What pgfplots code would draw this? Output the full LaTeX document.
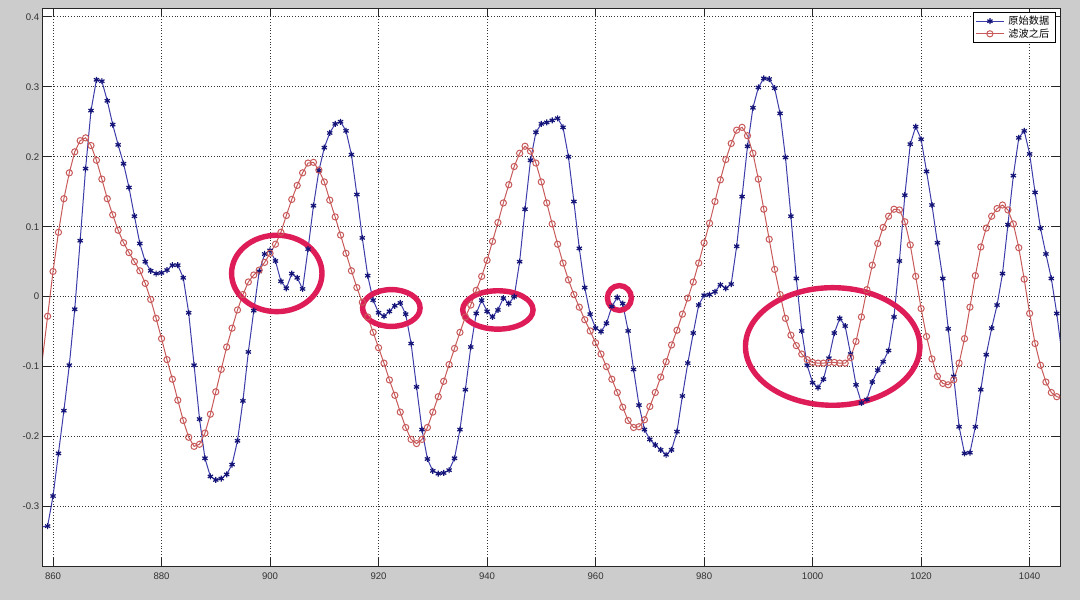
\documentclass[border=0pt]{standalone}
\usepackage{pgfplots}
\pgfplotsset{compat=1.18}
\usepackage{fontspec}
\setmainfont{Liberation Sans}
\newfontfamily\cjk{Noto Sans CJK SC}
\definecolor{figgray}{RGB}{204,204,204}
\definecolor{bline}{RGB}{60,60,170}
\definecolor{bmark}{RGB}{20,20,120}
\definecolor{rline}{RGB}{200,90,90}
\definecolor{ring}{RGB}{222,28,88}
\begin{document}
\begin{tikzpicture}
\useasboundingbox (0,0) rectangle (540pt,300pt);
\clip (0,0) rectangle (540pt,300pt);
\fill[figgray] (0,0) rectangle (540pt,300pt);
\node[anchor=south] at (275pt,298.0pt) {\cjk\fontsize{6}{7}\selectfont 原始数据};
\begin{axis}[
  at={(21.5pt,17pt)}, anchor=south west,
  width=508.5pt, height=279pt, scale only axis,
  xmin=858.15, xmax=1045.6, ymin=-0.385, ymax=0.4126,
  axis background/.style={fill=white},
  axis line style={black!85, line width=0.5pt},
  xtick={860,880,900,920,940,960,980,1000,1020,1040},
  xticklabels={860,880,900,920,940,960,980,1000,1020,1040},
  ytick={-0.3,-0.2,-0.1,0,0.1,0.2,0.3,0.4},
  yticklabels={-0.3,-0.2,-0.1,0,0.1,0.2,0.3,0.4},
  tick align=inside, major tick length=4pt,
  tick style={black!85, line width=0.5pt},
  xtick pos=both, ytick pos=both,
  ticklabel style={font=\fontsize{4.8}{5.5}\selectfont, text=black!80},
  xticklabel style={yshift=0.3pt},
  yticklabel style={xshift=1.6pt},
  grid=major,
  grid style={densely dotted, black!80, line width=0.45pt},
  legend style={at={(1,1)}, anchor=north east, xshift=-2.15pt, yshift=-2.2pt,
    font=\cjk\fontsize{5.1}{6}\selectfont, draw=black, line width=0.5pt,
    inner xsep=1pt, inner ysep=1pt, row sep=0pt, fill=white,
    nodes={inner ysep=0.4pt, text height=4.4pt, text depth=1.1pt}},
  legend cell align=left,
  legend image code/.code={\draw[mark repeat=2,mark phase=2] plot coordinates {(0pt,0pt) (7pt,0pt) (14pt,0pt)};},
]
\addplot[bline, line width=0.5pt, mark=asterisk, mark size=1.5pt, mark options={bmark, line width=0.6pt}] coordinates {
(858,-0.329)(859,-0.328)(860,-0.285)(861,-0.224)(862,-0.163)(863,-0.098)(864,-0.018)(865,0.080)(866,0.183)(867,0.266)
(868,0.310)(869,0.308)(870,0.280)(871,0.246)(872,0.217)(873,0.190)(874,0.156)(875,0.115)(876,0.076)(877,0.050)
(878,0.037)(879,0.033)(880,0.034)(881,0.038)(882,0.045)(883,0.045)(884,0.027)(885,-0.023)(886,-0.098)(887,-0.175)
(888,-0.231)(889,-0.257)(890,-0.262)(891,-0.260)(892,-0.254)(893,-0.240)(894,-0.206)(895,-0.149)(896,-0.079)(897,-0.020)
(898,0.036)(899,0.061)(900,0.066)(901,0.051)(902,0.022)(903,0.012)(904,0.033)(905,0.027)(906,0.011)(907,0.068)
(908,0.130)(909,0.180)(910,0.213)(911,0.234)(912,0.247)(913,0.250)(914,0.237)(915,0.203)(916,0.146)(917,0.084)
(918,0.030)(919,-0.005)(920,-0.023)(921,-0.028)(922,-0.021)(923,-0.013)(924,-0.009)(925,-0.025)(926,-0.067)(927,-0.129)
(928,-0.190)(929,-0.232)(930,-0.249)(931,-0.253)(932,-0.252)(933,-0.248)(934,-0.231)(935,-0.190)(936,-0.133)(937,-0.072)
(938,-0.024)(939,-0.005)(940,-0.021)(941,-0.029)(942,-0.019)(943,-0.002)(944,-0.010)(945,0.000)(946,0.050)(947,0.125)
(948,0.195)(949,0.235)(950,0.247)(951,0.249)(952,0.252)(953,0.255)(954,0.242)(955,0.200)(956,0.136)(957,0.069)
(958,0.013)(959,-0.025)(960,-0.045)(961,-0.050)(962,-0.038)(963,-0.014)(964,-0.001)(965,-0.010)(966,-0.049)(967,-0.104)
(968,-0.155)(969,-0.190)(970,-0.204)(971,-0.212)(972,-0.219)(973,-0.226)(974,-0.219)(975,-0.193)(976,-0.142)(977,-0.095)
(978,-0.052)(979,-0.012)(980,0.002)(981,0.003)(982,0.007)(983,0.017)(984,0.012)(985,0.018)(986,0.072)(987,0.143)
(988,0.215)(989,0.270)(990,0.299)(991,0.312)(992,0.311)(993,0.298)(994,0.262)(995,0.199)(996,0.115)(997,0.026)
(998,-0.049)(999,-0.098)(1000,-0.123)(1001,-0.130)(1002,-0.118)(1003,-0.088)(1004,-0.052)(1005,-0.031)(1006,-0.042)(1007,-0.082)
(1008,-0.126)(1009,-0.152)(1010,-0.147)(1011,-0.122)(1012,-0.105)(1013,-0.093)(1014,-0.077)(1015,-0.029)(1016,0.051)(1017,0.145)
(1018,0.218)(1019,0.243)(1020,0.225)(1021,0.179)(1022,0.131)(1023,0.077)(1024,0.026)(1025,-0.046)(1026,-0.114)(1027,-0.186)
(1028,-0.224)(1029,-0.223)(1030,-0.186)(1031,-0.133)(1032,-0.083)(1033,-0.045)(1034,-0.012)(1035,0.033)(1036,0.103)(1037,0.173)
(1038,0.227)(1039,0.237)(1040,0.204)(1041,0.149)(1042,0.098)(1043,0.061)(1044,0.026)(1045,-0.024)(1046,-0.085)
};
\addlegendentry{原始数据}
\addplot[rline, line width=0.5pt, mark=o, mark size=1.55pt, mark options={rline, line width=0.5pt}] coordinates {
(858,-0.092)(859,-0.028)(860,0.036)(861,0.092)(862,0.140)(863,0.177)(864,0.207)(865,0.223)(866,0.227)(867,0.216)
(868,0.195)(869,0.168)(870,0.140)(871,0.117)(872,0.095)(873,0.077)(874,0.063)(875,0.050)(876,0.037)(877,0.019)
(878,-0.004)(879,-0.031)(880,-0.060)(881,-0.090)(882,-0.118)(883,-0.148)(884,-0.177)(885,-0.201)(886,-0.214)(887,-0.211)
(888,-0.195)(889,-0.168)(890,-0.136)(891,-0.104)(892,-0.072)(893,-0.045)(894,-0.019)(895,0.003)(896,0.021)(897,0.031)
(898,0.038)(899,0.049)(900,0.062)(901,0.075)(902,0.092)(903,0.116)(904,0.139)(905,0.159)(906,0.177)(907,0.191)
(908,0.192)(909,0.181)(910,0.164)(911,0.138)(912,0.114)(913,0.088)(914,0.062)(915,0.037)(916,0.013)(917,-0.008)
(918,-0.029)(919,-0.051)(920,-0.073)(921,-0.095)(922,-0.119)(923,-0.141)(924,-0.165)(925,-0.187)(926,-0.204)(927,-0.210)
(928,-0.204)(929,-0.187)(930,-0.165)(931,-0.143)(932,-0.121)(933,-0.097)(934,-0.074)(935,-0.051)(936,-0.029)(937,-0.012)
(938,0.009)(939,0.029)(940,0.052)(941,0.079)(942,0.106)(943,0.134)(944,0.160)(945,0.186)(946,0.205)(947,0.215)
(948,0.208)(949,0.191)(950,0.164)(951,0.134)(952,0.104)(953,0.075)(954,0.048)(955,0.024)(956,0.003)(957,-0.015)
(958,-0.033)(959,-0.049)(960,-0.066)(961,-0.082)(962,-0.100)(963,-0.118)(964,-0.137)(965,-0.158)(966,-0.177)(967,-0.187)
(968,-0.186)(969,-0.176)(970,-0.157)(971,-0.137)(972,-0.115)(973,-0.093)(974,-0.069)(975,-0.048)(976,-0.025)(977,-0.002)
(978,0.021)(979,0.048)(980,0.077)(981,0.105)(982,0.136)(983,0.167)(984,0.196)(985,0.219)(986,0.238)(987,0.242)
(988,0.230)(989,0.205)(990,0.168)(991,0.125)(992,0.082)(993,0.039)(994,0.003)(995,-0.031)(996,-0.055)(997,-0.070)
(998,-0.082)(999,-0.090)(1000,-0.094)(1001,-0.095)(1002,-0.095)(1003,-0.094)(1004,-0.094)(1005,-0.095)(1006,-0.095)(1007,-0.087)
(1008,-0.064)(1009,-0.029)(1010,0.010)(1011,0.045)(1012,0.076)(1013,0.099)(1014,0.115)(1015,0.125)(1016,0.124)(1017,0.107)
(1018,0.074)(1019,0.029)(1020,-0.017)(1021,-0.057)(1022,-0.089)(1023,-0.114)(1024,-0.124)(1025,-0.126)(1026,-0.119)(1027,-0.095)
(1028,-0.060)(1029,-0.015)(1030,0.030)(1031,0.071)(1032,0.098)(1033,0.115)(1034,0.126)(1035,0.131)(1036,0.124)(1037,0.104)
(1038,0.070)(1039,0.025)(1040,-0.024)(1041,-0.067)(1042,-0.098)(1043,-0.122)(1044,-0.137)(1045,-0.143)(1046,-0.145)
};
\addlegendentry{滤波之后}
\draw[ring, line width=2.7pt] (axis cs:901.24,0.0332) ellipse [x radius=22.6pt, y radius=19.1pt];
\draw[ring, line width=2.7pt] (axis cs:922.35,-0.0162) ellipse [x radius=14.4pt, y radius=9.2pt];
\draw[ring, line width=2.7pt] (axis cs:941.99,-0.019) ellipse [x radius=17.6pt, y radius=9.6pt];
\draw[ring, line width=2.7pt] (axis cs:964.39,-0.0019) ellipse [x radius=6pt, y radius=6.2pt];
\draw[ring, line width=2.7pt] (axis cs:1003.7,-0.0712) ellipse [x radius=43.6pt, y radius=29.4pt];
\end{axis}
\end{tikzpicture}
\end{document}
